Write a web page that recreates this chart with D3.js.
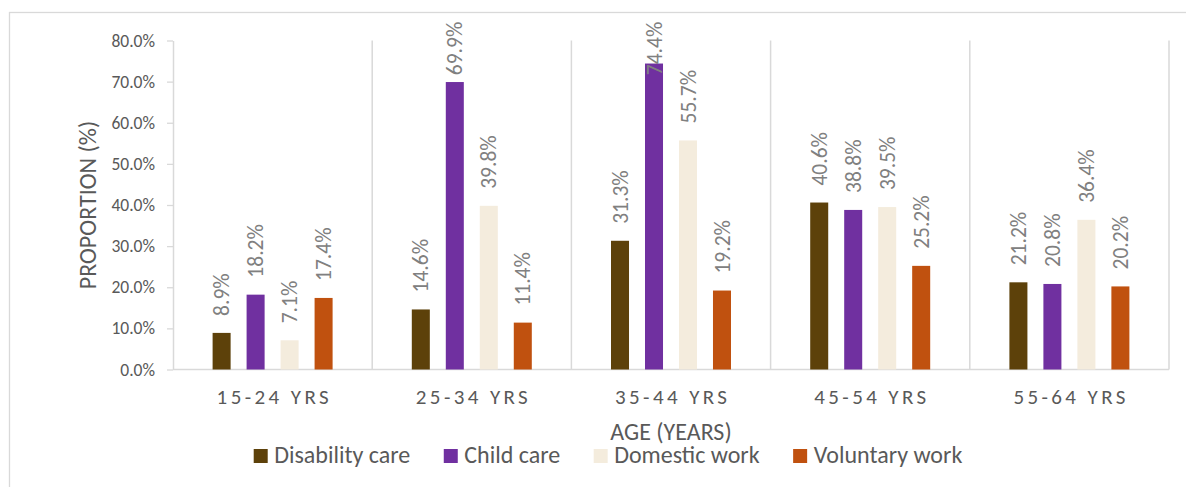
<!DOCTYPE html>
<html>
<head>
<meta charset="utf-8">
<script src="https://cdn.jsdelivr.net/npm/d3@7"></script>
<style>
  html, body { margin: 0; padding: 0; background: #fff; }
  svg { display: block; }
  text { font-family: Calibri, Carlito, Lato, sans-serif; }
</style>
</head>
<body>
<svg id="chart" width="1186" height="487"></svg>
<script>
// Age groups along the x axis
const categories = ["15-24 YRS", "25-34 YRS", "35-44 YRS", "45-54 YRS", "55-64 YRS"];

// Activity series (percent of each age group)
const seriesNames = ["Disability care", "Child care", "Domestic work", "Voluntary work"];
const disabilityCare = [8.9, 14.6, 31.3, 40.6, 21.2];
const childCare      = [18.2, 69.9, 74.4, 38.8, 20.8];
const domesticWork   = [7.1, 39.8, 55.7, 39.5, 36.4];
const voluntaryWork  = [17.4, 11.4, 19.2, 25.2, 20.2];
const seriesColors   = ["#5d410a", "#7030a0", "#f4ecdd", "#c0510f"];

// Y axis ticks
const yTicks = [0, 10, 20, 30, 40, 50, 60, 70, 80];

const seriesValues = [disabilityCare, childCare, domesticWork, voluntaryWork];

const svg = d3.select("#chart");
const plot = { left: 173, right: 1169, top: 40.5, bottom: 369.5 };
const gridColor = "#d9d9d9";
const textColor = "#595959";

// Chart frame
svg.append("rect")
  .attr("x", 9.5).attr("y", 12.5)
  .attr("width", 1300).attr("height", 600)
  .attr("fill", "none").attr("stroke", gridColor).attr("stroke-width", 1.3);

const x0 = d3.scaleBand().domain(categories).range([plot.left, plot.right]).padding(0);
const x1 = d3.scaleBand().domain(seriesNames).range([0, x0.bandwidth()])
  .paddingInner(0.47).paddingOuter(1.165);
const y = d3.scaleLinear().domain([0, 80]).range([plot.bottom, plot.top]);

// Category separators
const separators = categories.map(c => x0(c)).concat([x0(categories[categories.length - 1]) + x0.bandwidth()]);
svg.append("g").selectAll("line").data(separators.slice(1)).join("line")
  .attr("x1", d => d).attr("x2", d => d)
  .attr("y1", y(80)).attr("y2", y(0))
  .attr("stroke", gridColor).attr("stroke-width", 1.5);

// Y axis
const yAxis = svg.append("g")
  .attr("transform", `translate(${plot.left},0)`)
  .call(d3.axisLeft(y).tickValues(yTicks).tickFormat(d => d.toFixed(1) + "%")
    .tickSizeInner(6).tickSizeOuter(0).tickPadding(12));
yAxis.select(".domain").attr("stroke", gridColor).attr("stroke-width", 1.5);
yAxis.selectAll(".tick line").attr("stroke", gridColor).attr("stroke-width", 1.3);
yAxis.selectAll(".tick text")
  .attr("fill", textColor).style("font-size", "17.5px");

// X baseline
svg.append("line")
  .attr("x1", plot.left).attr("x2", plot.right)
  .attr("y1", y(0)).attr("y2", y(0))
  .attr("stroke", gridColor).attr("stroke-width", 1.5);

// Bars
const bars = [];
categories.forEach((c, i) => {
  seriesNames.forEach((s, j) => {
    bars.push({ cat: c, series: s, value: seriesValues[j][i], color: seriesColors[j] });
  });
});

svg.append("g").selectAll("rect").data(bars).join("rect")
  .attr("x", d => x0(d.cat) + x1(d.series))
  .attr("y", d => y(d.value))
  .attr("width", x1.bandwidth())
  .attr("height", d => y(0) - y(d.value))
  .attr("fill", d => d.color);

// Value labels, rotated and placed above each bar
const labelTopLimit = 21.7;
const labels = svg.append("g").selectAll("text").data(bars).join("text")
  .text(d => d.value.toFixed(1) + "%")
  .attr("fill", "#808080")
  .style("font-size", "21.5px")
  .attr("dy", "0.35em")
  .attr("text-anchor", "start");
labels.each(function (d) {
  const len = this.getComputedTextLength();
  let startY = y(d.value) - 17;
  if (startY - len < labelTopLimit) startY = labelTopLimit + len;
  const cx = x0(d.cat) + x1(d.series) + x1.bandwidth() / 2;
  d3.select(this).attr("transform", `translate(${cx},${startY}) rotate(-90)`);
});

// Category labels
svg.append("g").selectAll("text").data(categories).join("text")
  .attr("x", d => x0(d) + x0.bandwidth() / 2 + 1.7)
  .attr("y", 404)
  .attr("text-anchor", "middle")
  .attr("fill", textColor)
  .style("font-size", "21px")
  .style("letter-spacing", "3.4px")
  .text(d => d);

// Axis titles
svg.append("text")
  .attr("transform", `translate(96,${(plot.top + plot.bottom) / 2}) rotate(-90)`)
  .attr("text-anchor", "middle")
  .attr("fill", textColor)
  .style("font-size", "24px")
  .text("PROPORTION (%)");

svg.append("text")
  .attr("x", (plot.left + plot.right) / 2)
  .attr("y", 440)
  .attr("text-anchor", "middle")
  .attr("fill", textColor)
  .style("font-size", "24px")
  .text("AGE (YEARS)");

// Legend
const legend = svg.append("g");
const swatch = 14, swatchGap = 6.5, itemGap = 33.5;
const items = legend.selectAll("g").data(seriesNames).join("g");
items.append("rect")
  .attr("width", swatch).attr("height", swatch)
  .attr("y", 449)
  .attr("fill", (d, i) => seriesColors[i]);
items.append("text")
  .attr("x", swatch + swatchGap)
  .attr("y", 463.3)
  .attr("fill", textColor)
  .style("font-size", "24px")
  .text(d => d);
let cursor = 0;
const offsets = [];
items.each(function () {
  const w = d3.select(this).select("text").node().getComputedTextLength();
  offsets.push(cursor);
  cursor += swatch + swatchGap + w + itemGap;
});
const legendWidth = cursor - itemGap;
const legendStart = 608 - legendWidth / 2;
items.attr("transform", (d, i) => `translate(${legendStart + offsets[i]},0)`);
</script>
</body>
</html>
